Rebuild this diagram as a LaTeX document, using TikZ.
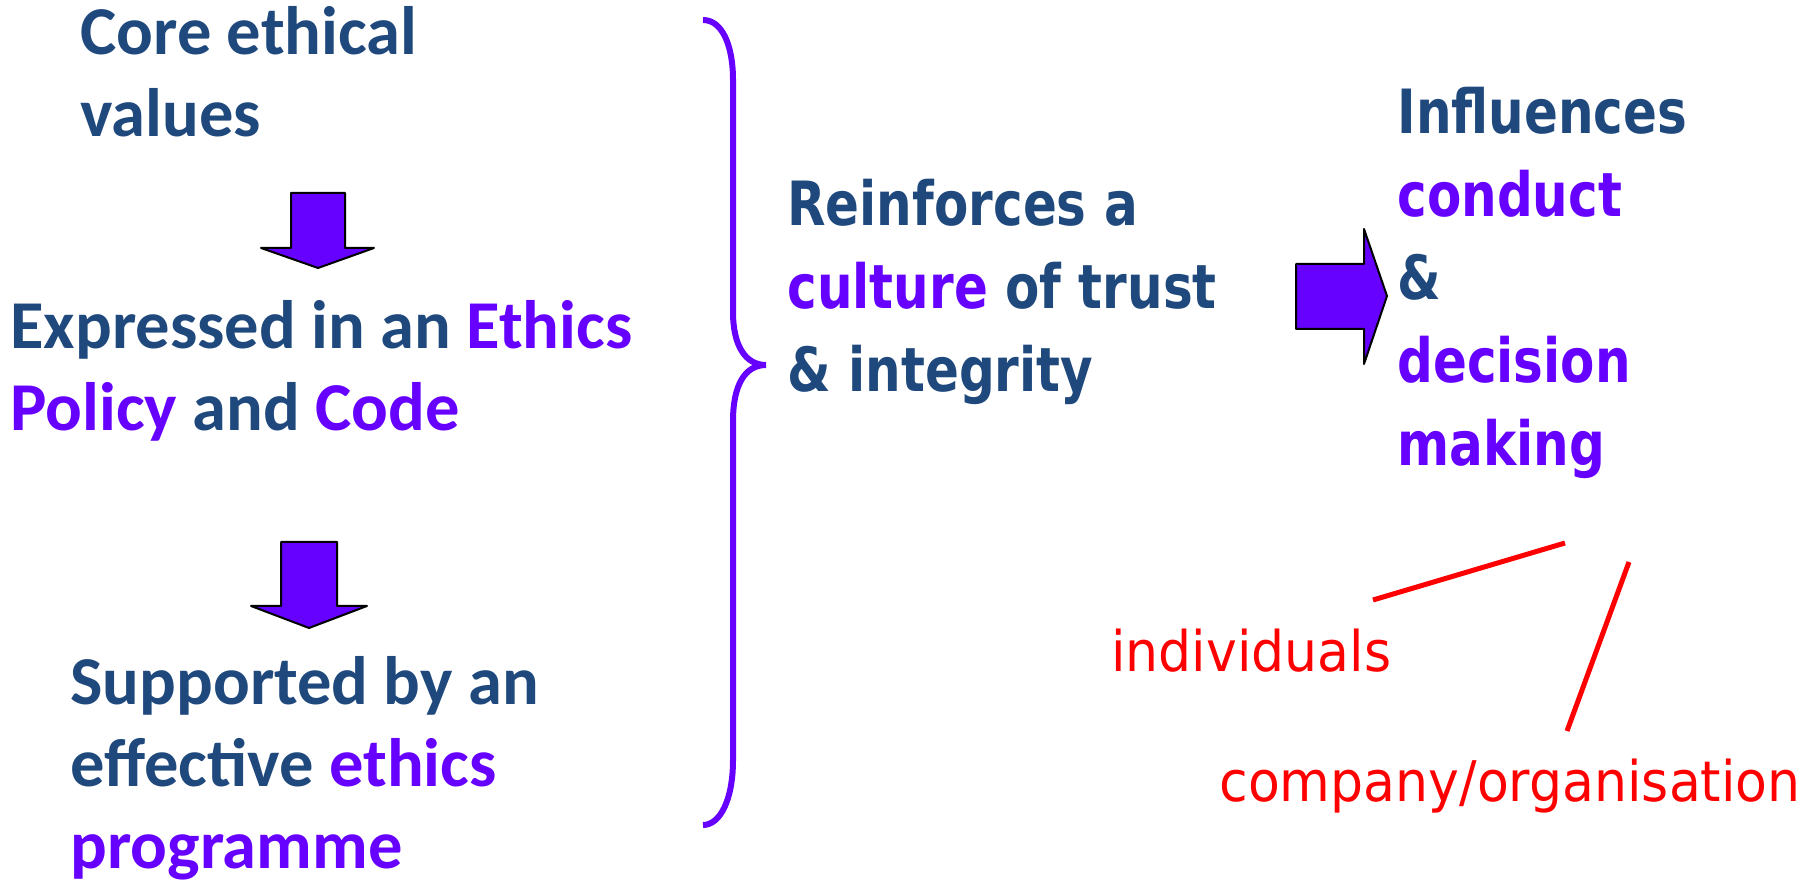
\documentclass[tikz,border=0pt]{standalone}
\usepackage{fontspec}
\usepackage{xcolor}
\newfontfamily\calibrifont{Carlito}
\newfontfamily\widefont[FakeStretch=0.82]{DejaVu Sans}
\newfontfamily\wideregfont[FakeStretch=0.93]{DejaVu Sans}
\definecolor{textnavy}{RGB}{31,73,125}
\definecolor{ethpurple}{RGB}{102,0,255}
\definecolor{linered}{RGB}{255,0,0}
\newcommand{\hl}[1]{\textcolor{ethpurple}{#1}}

\begin{document}
\begin{tikzpicture}[x=0.5pt, y=-0.5pt,
  every node/.style={inner sep=0, anchor=base west, align=left},
  leftfont/.style={font=\calibrifont\bfseries\fontsize{34.25}{41}\selectfont, text=textnavy},
  midfont/.style={font=\widefont\bfseries\fontsize{30.5}{41.5}\selectfont, text=textnavy},
  redfont/.style={font=\wideregfont\fontsize{28}{34}\selectfont, text=linered},
  blockarrow/.style={fill=ethpurple, draw=black, line width=1pt, line join=round},
  redline/.style={draw=linered, line width=2.5pt}]

\useasboundingbox (0,0) rectangle (1816,881);

% Left column (nodes sit on the baseline of their last line)
\node[leftfont] (core) at (80,137) {Core ethical\\values};
\node[leftfont] (expr) at (10,431) {Expressed in an \hl{Ethics}\\\hl{Policy} and \hl{Code}};
\node[leftfont] (supp) at (70,868) {Supported by an\\effective \hl{ethics}\\\hl{programme}};

% Down arrows
\draw[blockarrow] (291,193) -- (345,193) -- (345,248) -- (374,248) -- (318,268) -- (261,248) -- (291,248) -- cycle;
\draw[blockarrow] (281,542) -- (337,542) -- (337,606) -- (367,606) -- (309,628) -- (251,606) -- (281,606) -- cycle;

% Brace
\draw[ethpurple, line width=3pt] (703,20) .. controls (722,20) and (733,45) .. (733,80) -- (733,312)
  .. controls (733,345) and (745,365) .. (766,365) .. controls (745,365) and (733,385) .. (733,421)
  -- (733,760) .. controls (733,800) and (720,825) .. (703,825);

% Middle and right text
\node[midfont] (cult) at (787,392) {Reinforces a\\\hl{culture} of trust\\\& integrity};
\draw[blockarrow] (1296,264) -- (1364,264) -- (1364,229) -- (1387,296) -- (1364,364) -- (1364,329) -- (1296,329) -- cycle;
\node[midfont] (infl) at (1397,466) {Influences\\\hl{conduct}\\\&\\\hl{decision}\\\hl{making}};

% Who it influences
\node[redfont] (indiv) at (1111,672) {individuals};
\node[redfont] (comp) at (1219,801) {company/organisation};
\coordinate (indtop) at (1373,600);
\coordinate (indend) at (1565,543);
\coordinate (comptop) at (1567,731);
\coordinate (compend) at (1629,562);
\draw[redline] (indtop) -- (indend);
\draw[redline] (comptop) -- (compend);
\end{tikzpicture}
\end{document}
